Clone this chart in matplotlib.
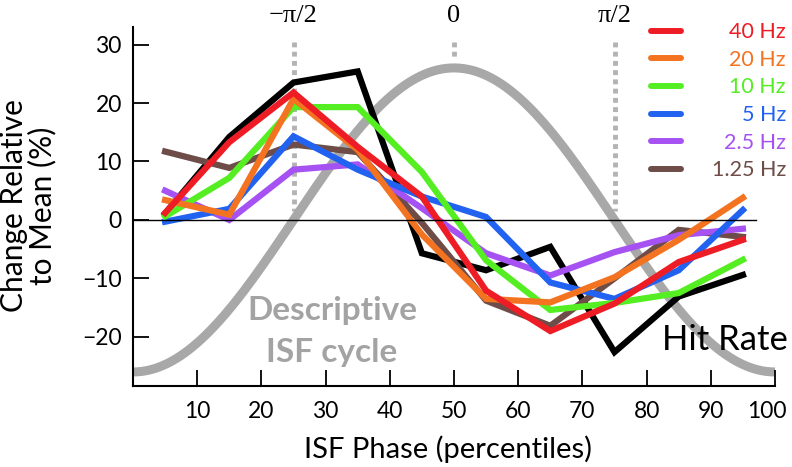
import numpy as np
import matplotlib
matplotlib.use("Agg")
import matplotlib.pyplot as plt
from matplotlib.transforms import ScaledTranslation

plt.rcParams['font.family'] = ['Lato', 'DejaVu Sans']

# ISF phase bins (percentiles)
phase = [5, 15, 25, 35, 45, 55, 65, 75, 85, 95]

# change relative to mean (%)
hit_rate = [1.1, 14.2, 23.5, 25.4, -5.7, -8.6, -4.6, -22.6, -13.1, -9.4]
hz_40 = [1.2, 13.3, 21.8, 12.5, 4.0, -12.1, -19.0, -14.3, -7.2, -3.4]
hz_20 = [3.4, 0.9, 20.7, 12.0, -2.5, -13.5, -14.1, -9.8, -3.4, 3.8]
hz_10 = [0.6, 7.2, 19.3, 19.3, 8.2, -6.9, -15.4, -14.2, -12.5, -6.8]
hz_5 = [-0.3, 1.9, 14.3, 8.6, 4.0, 0.5, -10.7, -13.5, -8.6, 1.7]
hz_2_5 = [5.0, 0.0, 8.6, 9.5, 2.0, -5.7, -9.5, -5.5, -2.6, -1.5]
hz_1_25 = [11.7, 8.9, 12.9, 11.6, -0.5, -13.8, -18.1, -10.0, -1.7, -2.9]

labels = ['40 Hz', '20 Hz', '10 Hz', '5 Hz', '2.5 Hz', '1.25 Hz']
series = [hz_40, hz_20, hz_10, hz_5, hz_2_5, hz_1_25]
colors = ['#ee1c25', '#f47321', '#55ee22', '#2262f0', '#a652f2', '#6e4c47']

# descriptive ISF cycle
cycle_amp = 26.0
phase_marks = [25, 50, 75]
phase_names = ['\u2212\u03c0/2', '0', '\u03c0/2']

fig = plt.figure(figsize=(7.92, 4.67), dpi=100)
ax = fig.add_axes([133/792, 81/467, 642/792, 359/467])

xc = np.linspace(0, 100, 300)
ax.plot(xc, -cycle_amp*np.cos(2*np.pi*xc/100), color='#a8a8a8', lw=6.5,
        solid_capstyle='butt', zorder=1)

# dotted phase markers
for p, name in zip(phase_marks, phase_names):
    y_low = 27.3 if p == 50 else 1.5
    ax.plot([p, p], [30.5, y_low], color='#b3b3b3', lw=3.5,
            linestyle=(0, (1, 0.9)), zorder=0.5)
    ax.text(p, 34.8, name, ha='center', va='center', fontsize=19,
            family=['Liberation Serif', 'DejaVu Serif'], clip_on=False)

ax.plot(phase, hit_rate, color='black', lw=4.5, solid_joinstyle='miter', zorder=2)
for vals, col in reversed(list(zip(series, colors))):
    ax.plot(phase, vals, color=col, lw=4.5, solid_joinstyle='miter', zorder=3)

ax.axhline(0, xmin=0, xmax=0.97, color='black', lw=1.0, zorder=6)

ax.set_xlim(0, 100)
ax.set_ylim(-28.4, 33.0)
ax.set_xticks(range(10, 101, 10))
ax.set_yticks([-20, -10, 0, 10, 20, 30])
ax.spines['top'].set_visible(False)
ax.spines['right'].set_visible(False)
ax.spines['left'].set_linewidth(1.5)
ax.spines['bottom'].set_linewidth(1.5)
ax.tick_params(direction='in', length=11.5, width=1.3, labelsize=16.5)
ax.tick_params(axis='x', pad=11)
ax.tick_params(axis='y', pad=8)

# last x label sits a little left of its tick, as in the original
last = ax.get_xticklabels()[-1]
last.set_transform(last.get_transform() + ScaledTranslation(-8/100, 0, fig.dpi_scale_trans))

fig.text(448/792, 9/467, 'ISF Phase (percentiles)', ha='center',
         va='baseline', fontsize=21)
fig.text(28/792, 1 - 206/467, 'Change Relative\nto Mean (%)', rotation=90,
         ha='center', va='center', multialignment='center', fontsize=21.5,
         linespacing=0.98)

ax.text(82.4, -22.2, 'Hit Rate', fontsize=25, va='baseline', ha='left')
ax.text(31, -17.1, 'Descriptive', fontsize=24, fontweight='bold',
        color='#a3a3a3', ha='center', va='baseline')
ax.text(31, -24.3, 'ISF cycle', fontsize=24, fontweight='bold',
        color='#a3a3a3', ha='center', va='baseline')

# legend drawn by hand: line on the left, text right-aligned
for i, (lab, col) in enumerate(zip(labels, colors)):
    yy = 1 - (30.7 + i*27.6)/467
    fig.add_artist(plt.Line2D([651/792, 681/792], [yy, yy], color=col, lw=4.3,
                              solid_capstyle='round', transform=fig.transFigure))
    fig.text(786/792, yy - 7.5/467, lab, color=col, fontsize=15.5,
             ha='right', va='baseline')

fig.savefig('out.png', dpi=100)
